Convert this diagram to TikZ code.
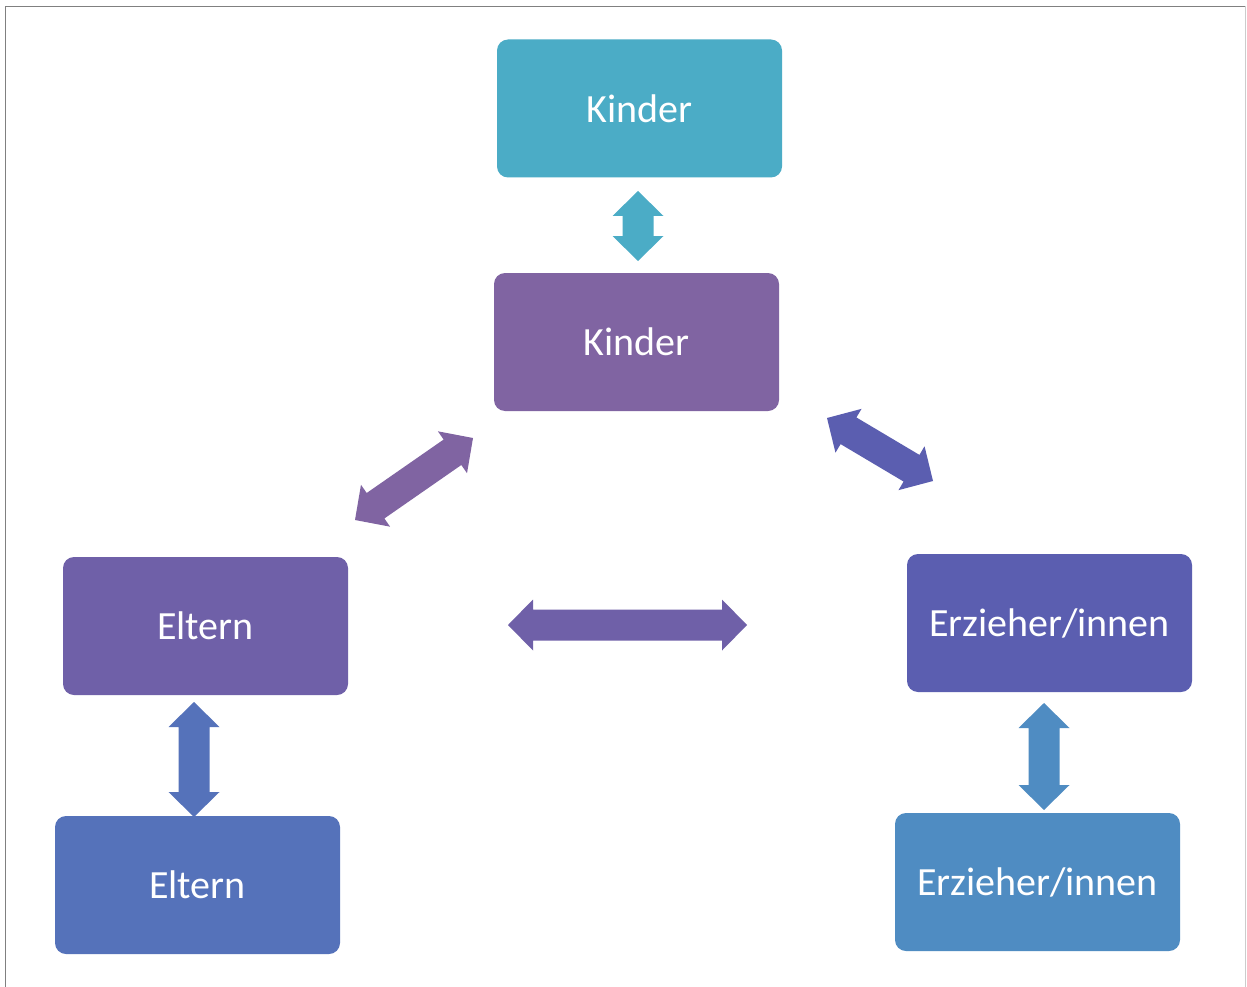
\documentclass[tikz,border=0pt]{standalone}
\usepackage{fontspec}
\setmainfont{Carlito}
\definecolor{cTeal}{HTML}{4BACC6}
\definecolor{cPurple}{HTML}{8064A2}
\definecolor{cEltern}{HTML}{6F60A8}
\definecolor{cErz}{HTML}{5B5EB0}
\definecolor{cEltB}{HTML}{5572BA}
\definecolor{cErzB}{HTML}{4F8CC2}
\tikzset{
  box/.style={rounded corners=11pt, minimum width=285pt, minimum height=138pt,
    inner sep=0pt, text=white, font=\fontsize{40}{48}\selectfont},
  pics/dblarrow/.style n args={2}{code={
    \fill[#2] (-#1/2,0) -- ++(25,25.5) -- ++(0,-10) -- (#1/2-25,15.5) -- ++(0,10)
      -- (#1/2,0) -- ++(-25,-25.5) -- ++(0,10) -- (-#1/2+25,-15.5) -- ++(0,-10) -- cycle;
  }}
}
\begin{document}
\begin{tikzpicture}[x=1pt,y=-1pt]
\useasboundingbox (0,0) rectangle (1247,987);
\fill[white] (0,0) rectangle (1247,987);
% frame
\draw[line width=1.8pt, black!50] (5.5,987) -- (5.5,6.5) -- (1245.5,6.5);
\draw[line width=1.2pt, black!20] (1245.5,6.5) -- (1245.5,987);
% boxes
\node[box, fill=cTeal]   (kt) at (639.5,108.5) {Kinder};
\node[box, fill=cPurple] (km) at (636.5,342)   {Kinder};
\node[box, fill=cEltern] (el) at (205.5,626)   {Eltern};
\node[box, fill=cEltB]   (eb) at (197.5,885)   {Eltern};
\node[box, fill=cErz]    (er) at (1049.5,623)  {Erzieher/innen};
\node[box, fill=cErzB]   (rb) at (1037.5,882)  {Erzieher/innen};
% arrow end points
\coordinate (kt1) at (638,191);  \coordinate (kt2) at (638,261);
\coordinate (ld1) at (355,520);  \coordinate (ld2) at (473,438);
\coordinate (rd1) at (827,418);  \coordinate (rd2) at (933,481);
\coordinate (h1)  at (508,625);  \coordinate (h2)  at (747,625);
\coordinate (lv1) at (194,702);  \coordinate (lv2) at (194,817);
\coordinate (rv1) at (1044,703); \coordinate (rv2) at (1044,810);
% block arrows
\path (kt1) -- (kt2) pic[midway, sloped] {dblarrow={70}{cTeal}};
\path (ld1) -- (ld2) pic[midway, sloped] {dblarrow={143.7}{cPurple}};
\path (rd1) -- (rd2) pic[midway, sloped] {dblarrow={123.3}{cErz}};
\path (h1)  -- (h2)  pic[midway, sloped] {dblarrow={239}{cEltern}};
\path (lv1) -- (lv2) pic[midway, sloped] {dblarrow={115}{cEltB}};
\path (rv1) -- (rv2) pic[midway, sloped] {dblarrow={107}{cErzB}};
\end{tikzpicture}
\end{document}
